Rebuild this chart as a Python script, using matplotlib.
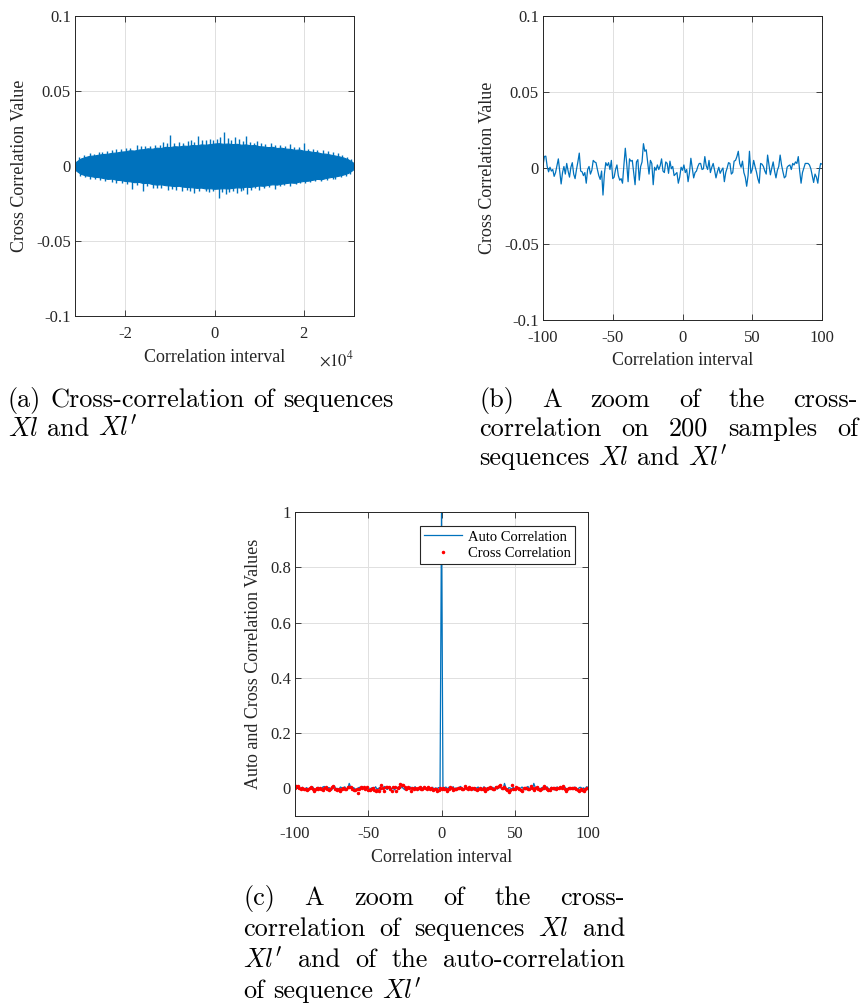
import numpy as np
import matplotlib
matplotlib.use("Agg")
import matplotlib.pyplot as plt

# ---------------- data ----------------
# (a) full cross-correlation: envelope of the dense band (values x1e-3) and spikes
env_lag = [-31300, -31000] + list(range(-30000, 30001, 1000)) + [31000, 31300]
env_upper = [1.5, 3.0,
             5.0, 6.0, 6.8, 7.0, 7.6, 8.0, 8.2, 8.8, 9.0, 9.6,
             9.8, 10.5, 10.3, 11.0, 11.2, 11.8, 11.5, 12.2, 12.0, 12.8,
             12.6, 13.2, 13.0, 13.6, 13.4, 14.0, 13.8, 14.4, 14.2, 14.6,
             15.0, 15.2, 14.8, 15.0, 14.6, 14.8, 14.2, 14.4, 13.8, 14.0,
             13.2, 13.0, 12.6, 12.8, 12.0, 12.2, 11.6, 11.4, 10.8, 11.0,
             10.2, 10.0, 9.4, 9.2, 8.4, 8.2, 7.6, 7.0, 6.4, 5.6,
             4.4, 2.5, 1.2]
env_lower = [-1.5, -3.2,
             -5.2, -6.2, -6.6, -7.2, -7.4, -8.0, -8.6, -8.4, -9.2, -9.4,
             -10.0, -10.2, -10.8, -10.6, -11.4, -11.2, -12.0, -12.4, -12.2, -12.8,
             -13.0, -13.4, -13.2, -13.8, -14.0, -14.2, -14.6, -14.4, -15.0, -14.8,
             -15.2, -15.0, -14.8, -15.0, -14.6, -14.2, -14.4, -13.8, -14.0, -13.4,
             -13.0, -13.2, -12.6, -12.2, -12.4, -11.8, -11.4, -11.0, -11.2, -10.4,
             -10.0, -9.8, -9.2, -8.6, -8.8, -8.0, -7.4, -7.0, -6.4, -5.6,
             -4.6, -2.6, -1.2]
spike_up_lag = [-30.5, -29.2, -28.0, -27.1, -26.0, -25.3, -24.2, -23.0, -22.1, -21.0,
                -19.9, -18.9, -17.5, -16.6, -15.5, -14.4, -13.3, -12.2, -11.5, -10.6,
                -9.9, -9.1, -8.0, -7.1, -6.0, -5.3, -4.5, -3.8, -2.9, -2.0,
                -1.1, -0.3, 0.5, 1.2, 2.2, 3.0, 3.8, 4.6, 5.5, 6.3,
                7.0, 7.9, 8.8, 9.6, 10.5, 11.4, 12.6, 13.5, 14.6, 15.8,
                16.9, 17.8, 19.0, 20.0, 21.0, 22.2, 23.1, 24.3, 25.5, 26.7,
                27.8, 28.6, 29.7, 30.6]
spike_up_val = [6.0, 7.5, 8.4, 8.0, 9.0, 9.4, 9.8, 10.6, 11.0, 11.5,
                12.3, 12.0, 14.0, 13.0, 13.6, 13.2, 14.0, 14.2, 16.2, 15.0,
                20.7, 15.2, 16.0, 15.4, 16.6, 17.0, 16.2, 20.0, 17.2, 17.6,
                18.0, 17.0, 17.8, 19.0, 22.7, 18.4, 17.6, 19.0, 17.8, 16.4,
                19.8, 16.0, 15.6, 16.8, 15.0, 14.6, 15.5, 14.2, 14.0, 13.4,
                14.5, 12.6, 12.4, 15.0, 11.6, 11.4, 10.6, 10.4, 9.8, 9.0,
                8.6, 7.4, 6.2, 4.6]
spike_dn_lag = [-30.2, -29.0, -28.0, -26.8, -25.6, -24.5, -23.0, -22.0, -20.8, -19.7,
                -18.6, -17.5, -16.0, -15.1, -13.9, -13.0, -11.9, -10.5, -9.5, -8.6,
                -7.2, -6.2, -5.4, -4.5, -3.5, -2.0, -1.2, -0.4, 0.9, 1.6,
                2.5, 3.3, 4.2, 5.0, 5.9, 6.5, 7.2, 8.2, 9.1, 10.0,
                11.2, 12.3, 13.5, 14.7, 15.6, 17.0, 18.2, 19.1, 20.2, 21.4,
                22.5, 24.0, 25.2, 26.5, 27.0, 28.3, 29.4, 30.4]
spike_dn_val = [-6.4, -7.6, -8.5, -8.8, -9.6, -9.8, -10.5, -11.2, -11.4, -12.0,
                -15.5, -12.6, -17.0, -13.6, -14.4, -15.0, -14.6, -16.0, -15.2, -15.8,
                -17.0, -16.0, -16.8, -18.0, -16.6, -17.0, -17.4, -16.8, -21.5, -17.6,
                -19.0, -17.2, -16.8, -18.0, -16.4, -16.0, -18.7, -15.8, -15.0, -16.0,
                -14.8, -14.0, -15.5, -13.4, -13.0, -13.5, -12.0, -11.6, -11.3, -10.8,
                -10.2, -10.0, -9.2, -8.6, -8.5, -7.6, -6.8, -5.2]

# (b)/(c) zoom on lags -100..100, values x1e-3
lags = list(range(-100, 101))
cross_vals = [
    1.5, 7.6, 7.8, 1.0, -2.5, 0.5, -2.0, -1.0, -5.5, -3.0,
    1.5, 6.0, -2.0, -10.5, -3.0, 1.0, -4.0, 3.0, -2.0, -6.0,
    0.5, 3.5, -4.0, -7.0, -1.0, 4.0, 9.8, -2.0, -2.5, -5.0,
    -3.0, -10.0, -1.0, 1.0, -4.0, -1.5, 5.0, 4.0, 3.5, -1.0,
    -5.0, -7.5, -2.0, -17.8, -4.0, 3.5, 1.5, 3.5, -1.0, 5.0,
    -7.0, -6.0, -1.0, 2.0, -5.0, -8.0, -7.0, -10.0, 2.0, 13.0,
    3.0, -9.0, 6.0, 4.5, 5.0, -3.0, -11.0, 4.0, 5.5, -8.0,
    1.0, 4.0, 16.0, 11.0, 12.0, 4.0, -4.0, 5.0, 3.0, -11.0,
    0.5, -1.5, 2.0, -1.0, 1.5, 6.0, -2.0, -3.0, 4.0, 3.0,
    -3.5, 4.5, -0.5, 1.0, -5.0, -4.0, -3.0, -10.0, -6.0, 0.5,
    -1.5, 2.0, -3.0, -1.0, -9.0, -3.0, 6.4, 0.0, -6.5, -3.0,
    -2.0, 1.0, 3.0, 3.0, -1.0, -0.5, 7.5, 1.5, -1.0, 5.0,
    -3.0, 0.5, 3.0, -1.5, -6.5, -2.5, 0.5, -3.5, -1.5, 0.0,
    -9.0, -3.0, 0.0, 3.5, 3.0, -4.0, -3.0, 4.5, 5.0, 7.5,
    11.0, 3.0, 0.5, 4.5, -3.0, -6.0, -12.0, -5.0, 11.0, -3.5,
    -1.0, 5.0, 1.0, -2.5, -7.0, -10.0, 3.0, 2.5, 1.0, -2.0,
    -4.0, 8.5, 2.0, -4.5, 0.0, 4.0, -2.0, -6.5, -1.5, 1.0,
    8.5, 2.0, -2.5, -6.5, -5.5, 0.5, 1.5, 2.0, -1.0, 3.0,
    2.0, 4.0, 3.0, 7.5, -2.0, -10.0, -3.0, 0.0, 3.0, 3.0,
    3.0, 2.0, -0.5, -5.0, -9.5, -4.0, -6.0, -10.0, -2.0, 3.0, 2.5]
auto_vals = [
    3, 5, 2, -4, -1, 4, -6, -2, 3, -5,
    1, -3, 6, -2, -7, 2, 4, -1, -4, 5,
    7, -2, -5, 3, 1, -6, 2, 8, -3, 0,
    -4, 5, 2, -1, 6, -3, -2, 18, 4, -5,
    3, -2, -6, 1, 4, -3, 7, -1, -4, 2,
    5, -6, 1, 3, -2, 6, -3, 0, 4, -5,
    2, 7, -1, -4, 3, 5, -2, 1, -6, 3,
    4, -3, 2, 6, -1, -5, 3, 0, -2, 5,
    -4, 2, 6, -3, 1, -5, 4, 2, -1, 3,
    -2, 5, -3, 1, 4, -6, 2, -1, 3, -4,
    1000, -3, 2, 5, -2, 4, -4, 1, 6, -3,
    2, -5, 3, 7, -1, -4, 2, 5, -3, 1,
    4, -2, -6, 3, 1, 5, -3, 2, -1, 6,
    -4, 2, 3, -5, 1, 4, -2, 6, -3, 2,
    5, -1, -4, 18, 2, -6, 3, 1, -2, 4,
    -3, 6, 2, -4, 1, 5, -2, -5, 3, 7,
    -1, 2, -4, 18, 3, -2, 5, -3, 1, 4,
    -5, 2, 6, -1, -3, 4, 1, -6, 3, 5,
    -2, 1, 4, -3, 6, -1, -5, 2, 3, -4,
    1, 5, -2, -6, 3, 4, -1, 2, -3, 6, 3]

# ---------------- style ----------------
BLUE = "#0072BD"
DARK = "#262626"
SERIF = ["Liberation Serif", "DejaVu Serif"]
plt.rcParams["font.family"] = SERIF
plt.rcParams["axes.linewidth"] = 0.7

W, H = 860, 1005
fig = plt.figure(figsize=(W / 100, H / 100), dpi=100)


def make_ax(l, t, r, b):
    ax = fig.add_axes([l / W, 1 - b / H, (r - l) / W, (b - t) / H])
    ax.set_axisbelow(True)
    ax.grid(True, color="#e0e0e0", linewidth=0.7)
    for s in ax.spines.values():
        s.set_color(DARK)
    ax.tick_params(direction="in", top=True, right=True, length=4, width=0.6,
                   colors=DARK, labelsize=12)
    ax.tick_params(axis="x", pad=7)
    ax.tick_params(axis="y", pad=3)
    return ax


# (a)
axA = make_ax(75, 16, 354, 316)
up = np.array(env_upper) * 1e-3
lo = np.array(env_lower) * 1e-3
axA.fill_between(env_lag, lo, up, color=BLUE, linewidth=0.8, edgecolor=BLUE)
axA.vlines(np.array(spike_up_lag) * 1000, 0, np.array(spike_up_val) * 1e-3, color=BLUE, linewidth=1.0)
axA.vlines(np.array(spike_dn_lag) * 1000, 0, np.array(spike_dn_val) * 1e-3, color=BLUE, linewidth=1.0)
axA.set_xlim(-31300, 31300)
axA.set_ylim(-0.1, 0.1)
axA.set_xticks([-20000, 0, 20000])
axA.set_xticklabels(["-2", "0", "2"])
axA.set_yticks([-0.1, -0.05, 0, 0.05, 0.1])
axA.set_yticklabels(["-0.1", "-0.05", "0", "0.05", "0.1"])
axA.set_xlabel("Correlation interval", fontsize=13, color=DARK)
axA.set_ylabel("Cross Correlation Value", fontsize=13, color=DARK)
axA.xaxis.set_label_coords(0.5, -(349 - 316) / 300)
axA.yaxis.set_label_coords((28 - 75) / 279, 0.5)
axA.text(1.0, -(350 - 316) / 300, r"$\times10^{4}$", transform=axA.transAxes,
         ha="right", va="top", fontsize=12, color=DARK, math_fontfamily="stix")

# (b)
axB = make_ax(543, 16, 822, 320)
axB.plot(lags, np.array(cross_vals) * 1e-3, color=BLUE, linewidth=0.9)
axB.set_xlim(-100, 100)
axB.set_ylim(-0.1, 0.1)
axB.set_xticks([-100, -50, 0, 50, 100])
axB.set_xticklabels(["-100", "-50", "0", "50", "100"])
axB.set_yticks([-0.1, -0.05, 0, 0.05, 0.1])
axB.set_yticklabels(["-0.1", "-0.05", "0", "0.05", "0.1"])
axB.set_xlabel("Correlation interval", fontsize=13, color=DARK)
axB.set_ylabel("Cross Correlation Value", fontsize=13, color=DARK)
axB.xaxis.set_label_coords(0.5, -(352 - 320) / 304)
axB.yaxis.set_label_coords((496 - 543) / 279, 0.5)

# (c)
axC = make_ax(295, 512, 588, 816)
axC.plot(lags, np.array(auto_vals) * 1e-3, color=BLUE, linewidth=0.9, label="Auto Correlation")
axC.plot(lags, np.array(cross_vals) * 1e-3, linestyle="none", marker=".", markersize=3.0,
         color="red", label="Cross Correlation")
axC.set_xlim(-100, 100)
axC.set_ylim(-0.1, 1)
axC.set_xticks([-100, -50, 0, 50, 100])
axC.set_xticklabels(["-100", "-50", "0", "50", "100"])
axC.set_yticks([0, 0.2, 0.4, 0.6, 0.8, 1])
axC.set_yticklabels(["0", "0.2", "0.4", "0.6", "0.8", "1"])
axC.set_xlabel("Correlation interval", fontsize=13, color=DARK)
axC.set_ylabel("Auto and Cross Correlation Values", fontsize=13, color=DARK)
axC.xaxis.set_label_coords(0.5, -(849 - 816) / 304)
axC.yaxis.set_label_coords((262 - 295) / 293, 0.5)
leg = axC.legend(loc="upper right", bbox_to_anchor=((575 - 295) / 293, (816 - 526) / 304),
                 borderaxespad=0, fontsize=10.5, fancybox=False, framealpha=1,
                 edgecolor=DARK, handlelength=2.6, handletextpad=0.4,
                 borderpad=0.3, labelspacing=0.2)
leg.get_frame().set_linewidth(0.8)

# ---------------- captions (justified) ----------------
renderer = fig.canvas.get_renderer()
CAP = dict(family="cmr10", math_fontfamily="cm", color="black")


def measure(s, size):
    t = fig.text(0, 0, s, fontsize=size, **CAP)
    w = t.get_window_extent(renderer).width
    t.remove()
    return w


cap_size = 10 * 386 / measure("(a) Cross-correlation of sequences", 10)


def draw_line(words, x0, x1, y, justify):
    texts = [fig.text(0, 0, w, fontsize=cap_size, va="baseline", ha="left", **CAP) for w in words]
    widths = [t.get_window_extent(renderer).width for t in texts]
    if justify and len(words) > 1:
        gap = (x1 - x0 - sum(widths)) / (len(words) - 1)
    else:
        gap = 0.333 * cap_size * 100 / 72
    x = x0
    for t, w in zip(texts, widths):
        t.set_position((x / W, 1 - y / H))
        x += w + gap


def draw_caption(lines, x0, x1, y0, dy):
    for i, ln in enumerate(lines):
        draw_line(ln.split(" "), x0, x1, y0 + i * dy, justify=(i < len(lines) - 1))


draw_caption(["(a) Cross-correlation of sequences", "$Xl$ and $Xl'$"], 8, 394, 407, 29)
draw_caption(["(b) A zoom of the cross-", "correlation on 200 samples of",
              "sequences $Xl$ and $Xl'$"], 479, 858, 407, 29)
draw_caption(["(c) A zoom of the cross-", "correlation of sequences $Xl$ and",
              "$Xl'$ and of the auto-correlation", "of sequence $Xl'$"], 243, 625, 905, 31)

fig.savefig("out.png", dpi=100)
